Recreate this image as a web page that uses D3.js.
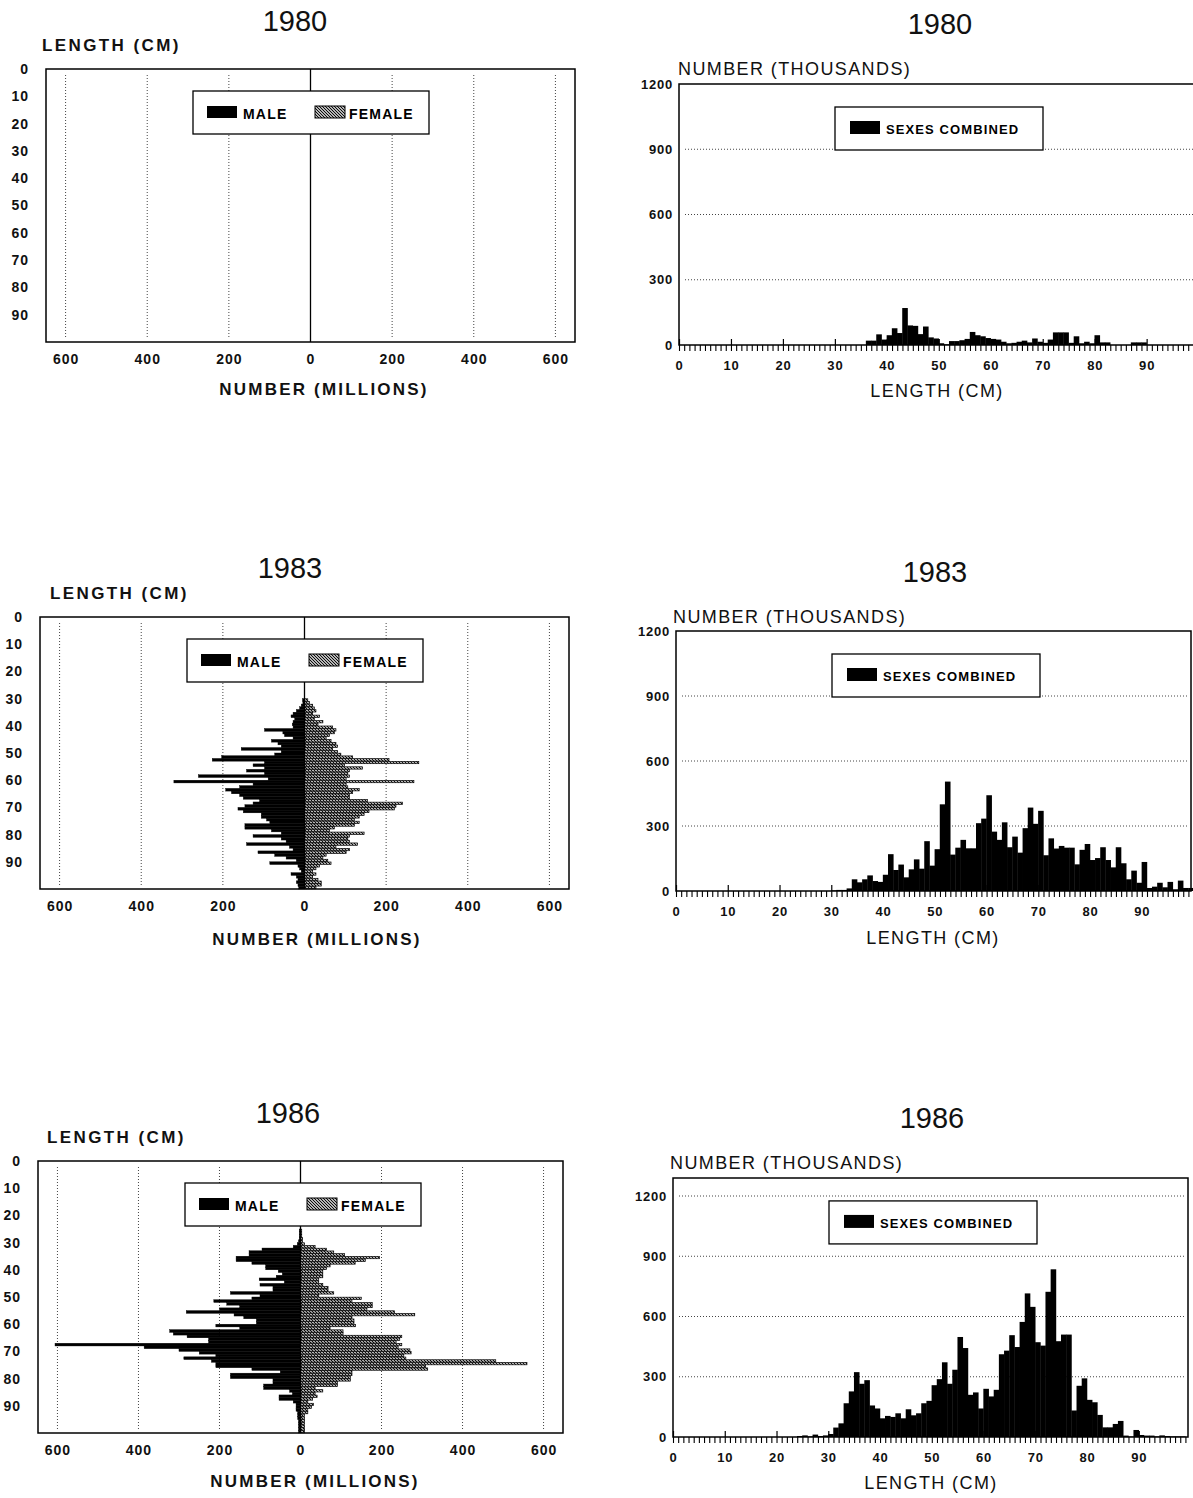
<!DOCTYPE html>
<html>
<head>
<meta charset="utf-8">
<script src="https://cdn.jsdelivr.net/npm/d3@7"></script>
<style>
  body { margin: 0; background: #fff; }
  svg { display: block; font-family: "Liberation Sans", Arial, sans-serif; }
</style>
</head>
<body>
<script>
// ---- data: length frequencies, 1 cm bins ----
// pyramids, number (millions) by length class, first bin given by *Start
var male1980Start = 30
var male1980 = []
var female1980 = []

var pyr1983Start = 30
var male1983 = [5, 4, 8, 12, 20, 28, 33, 24, 28, 30,
  28, 98, 53, 49, 28, 81, 65, 57, 155, 57,
  73, 203, 226, 98, 126, 98, 142, 98, 260, 89,
  320, 126, 159, 193, 179, 159, 150, 110, 126, 146,
  163, 150, 106, 106, 93, 85, 146, 146, 81, 57,
  126, 57, 45, 142, 37, 28, 114, 73, 45, 20,
  85, 16, 12, 8, 33, 20, 16, 20, 16, 14]
var female1983 = [8, 12, 20, 24, 28, 20, 37, 24, 45, 33,
  69, 77, 73, 61, 53, 65, 77, 81, 69, 81,
  89, 118, 207, 280, 98, 142, 110, 106, 110, 102,
  268, 102, 106, 134, 118, 110, 110, 154, 240, 224,
  220, 158, 146, 134, 122, 134, 122, 73, 61, 146,
  110, 106, 110, 130, 77, 110, 102, 53, 45, 57,
  65, 37, 28, 20, 28, 20, 33, 41, 41, 28]

var pyr1986Start = 25
var male1986 = [3, 3, 3, 3, 5, 8, 18, 95, 127, 127,
  159, 159, 120, 86, 86, 55, 45, 60, 102, 40,
  100, 68, 68, 173, 100, 120, 214, 182, 150, 200,
  282, 164, 140, 109, 109, 209, 150, 323, 314, 280,
  227, 227, 606, 386, 300, 250, 209, 288, 220, 209,
  209, 120, 50, 173, 173, 68, 68, 91, 91, 27,
  20, 53, 53, 18, 11, 11, 11, 7, 7, 7,
  5, 5, 5, 5, 5]
var female1986 = [3, 3, 3, 5, 5, 10, 36, 64, 82, 109,
  195, 160, 135, 73, 64, 55, 55, 55, 45, 45,
  55, 68, 68, 82, 45, 150, 127, 177, 177, 164,
  232, 282, 127, 132, 132, 136, 73, 105, 105, 250,
  245, 236, 250, 241, 270, 273, 255, 260, 482, 559,
  309, 314, 127, 127, 123, 123, 91, 91, 36, 55,
  36, 41, 30, 18, 32, 27, 18, 18, 10, 10,
  10, 10, 10, 10, 10]

// sexes combined, number (thousands)
var comb1980Start = 36
var combined1980 = [20, 20, 49, 25, 45, 77, 55, 170, 90, 88,
  50, 85, 35, 30, 8, 3, 18, 18, 22, 28,
  60, 45, 40, 32, 28, 25, 15, 8, 10, 15,
  20, 12, 30, 15, 10, 25, 58, 58, 58, 10,
  40, 8, 15, 8, 45, 12, 12, 0, 0, 0,
  0, 12, 12, 12]

var comb1983Start = 30
var combined1983 = [3, 5, 5, 12, 54, 40, 54, 72, 46, 42,
  75, 170, 97, 122, 63, 100, 146, 103, 230, 117,
  193, 400, 505, 168, 200, 236, 197, 197, 313, 334,
  442, 274, 236, 317, 202, 251, 177, 290, 385, 310,
  370, 165, 243, 196, 208, 200, 200, 123, 190, 217,
  143, 152, 202, 143, 109, 202, 128, 54, 94, 38,
  134, 14, 20, 38, 17, 42, 8, 48, 14, 14]

var comb1986Start = 24
var combined1986 = [5, 8, 3, 12, 5, 8, 15, 47, 68, 168,
  227, 323, 265, 283, 157, 142, 93, 105, 100, 118,
  93, 138, 108, 118, 168, 180, 258, 288, 372, 265,
  335, 498, 443, 210, 222, 142, 240, 202, 235, 412,
  430, 507, 448, 573, 715, 648, 472, 455, 723, 835,
  477, 510, 510, 132, 255, 292, 185, 173, 110, 48,
  48, 65, 80, 7, 2, 35, 10, 7, 7, 3,
  8, 5, 3, 3, 3]

var lengthTicks = [0, 10, 20, 30, 40, 50, 60, 70, 80, 90]
var numberTicks = [-600, -400, -200, 0, 200, 400, 600]
var thousandTicks = [0, 300, 600, 900, 1200]

var svg = d3.select('body').append('svg')
  .attr('width', 1193)
  .attr('height', 1498)

var defs = svg.append('defs')
defs.append('pattern')
  .attr('id', 'hatch')
  .attr('patternUnits', 'userSpaceOnUse')
  .attr('width', 3)
  .attr('height', 3)
  .call(p => {
    p.append('rect').attr('width', 3).attr('height', 3).attr('fill', '#fff')
    p.append('path').attr('d', 'M-1,-1 L4,4 M-1,2 L1,4 M2,-1 L4,1')
      .attr('stroke', '#000').attr('stroke-width', 1.1)
  })

function label(x, y, str, size, weight, anchor, spacing) {
  svg.append('text')
    .attr('x', x).attr('y', y)
    .attr('font-size', size)
    .attr('font-weight', weight)
    .attr('text-anchor', anchor || 'start')
    .attr('letter-spacing', spacing || 0)
    .attr('fill', '#111')
    .text(str)
}

function drawPyramid(o) {
  var x = d3.scaleLinear().domain([-648, 648]).range([o.left, o.right])
  var y = d3.scaleLinear().domain([0, 100]).range([o.top, o.bottom])
  var g = svg.append('g')

  label(o.titleX, o.titleY, o.year, 29, 'normal', 'middle', 0)
  label(o.lenX, o.lenY, 'LENGTH (CM)', 17, 'bold', 'start', 2.4)
  label(o.numX, o.numY, 'NUMBER (MILLIONS)', 17, 'bold', 'middle', 2.2)

  // dotted grid
  g.selectAll('.grid')
    .data(numberTicks.filter(d => d !== 0))
    .enter().append('line')
    .attr('x1', d => x(d)).attr('x2', d => x(d))
    .attr('y1', o.top + 6).attr('y2', o.bottom - 4)
    .attr('stroke', '#444').attr('stroke-width', 1)
    .attr('stroke-dasharray', '1,2')

  // bars
  g.selectAll('.male')
    .data(o.male)
    .enter().append('rect')
    .attr('x', d => x(-d))
    .attr('y', (d, i) => y(o.start + i))
    .attr('width', d => x(0) - x(-d))
    .attr('height', y(1) - y(0))
    .attr('fill', '#000')
    .attr('stroke', '#000').attr('stroke-width', 0.4)

  g.selectAll('.female')
    .data(o.female)
    .enter().append('rect')
    .attr('x', x(0))
    .attr('y', (d, i) => y(o.start + i) + 0.2)
    .attr('width', d => x(d) - x(0))
    .attr('height', y(1) - y(0) - 0.4)
    .attr('fill', 'url(#hatch)')
    .attr('stroke', '#000').attr('stroke-width', 0.7)

  // centre line
  g.append('line')
    .attr('x1', x(0)).attr('x2', x(0))
    .attr('y1', o.top).attr('y2', o.bottom)
    .attr('stroke', '#000').attr('stroke-width', 1.3)

  g.append('rect')
    .attr('x', o.left).attr('y', o.top)
    .attr('width', o.right - o.left).attr('height', o.bottom - o.top)
    .attr('fill', 'none').attr('stroke', '#000').attr('stroke-width', 1.5)

  var yAxis = g.append('g')
    .attr('transform', `translate(${o.left},0)`)
    .call(d3.axisLeft(y).tickValues(lengthTicks).tickSize(0).tickPadding(17))
  var xAxis = g.append('g')
    .attr('transform', `translate(0,${o.bottom})`)
    .call(d3.axisBottom(x).tickValues(numberTicks).tickFormat(d => Math.abs(d)).tickSize(0).tickPadding(12))
  ;[yAxis, xAxis].forEach(a => {
    a.select('.domain').remove()
    a.selectAll('text')
      .attr('font-family', '"Liberation Sans", Arial, sans-serif')
      .attr('font-size', 14).attr('font-weight', 'bold')
      .attr('letter-spacing', 1).attr('fill', '#111')
  })

  // legend
  var lg = g.append('g').attr('transform', `translate(${o.left + 147},${o.top + 22})`)
  lg.append('rect').attr('width', 236).attr('height', 43)
    .attr('fill', '#fff').attr('stroke', '#000').attr('stroke-width', 1.3)
  lg.append('rect').attr('x', 14).attr('y', 15).attr('width', 30).attr('height', 12).attr('fill', '#000')
  lg.append('text').attr('x', 50).attr('y', 28).attr('font-size', 14).attr('font-weight', 'bold')
    .attr('letter-spacing', 1.2).text('MALE')
  lg.append('rect').attr('x', 122).attr('y', 15).attr('width', 30).attr('height', 12)
    .attr('fill', 'url(#hatch)').attr('stroke', '#000').attr('stroke-width', 1)
  lg.append('text').attr('x', 156).attr('y', 28).attr('font-size', 14).attr('font-weight', 'bold')
    .attr('letter-spacing', 1.2).text('FEMALE')
}

function drawHist(o) {
  var x = d3.scaleLinear().domain([0, 99.5]).range([o.left, o.right])
  var y = d3.scaleLinear().domain([0, 1200]).range([o.bottom, o.top1200])
  var top = y(o.yMax)
  var g = svg.append('g')

  label(o.titleX, o.titleY, o.year, 29, 'normal', 'middle', 0)
  label(o.numX, o.numY, 'NUMBER (THOUSANDS)', 18, 'normal', 'start', 1.4)
  label(o.lenX, o.lenY, 'LENGTH (CM)', 18, 'normal', 'middle', 1.4)

  g.selectAll('.grid')
    .data(thousandTicks.filter(d => d > 0 && y(d) > top + 3))
    .enter().append('line')
    .attr('x1', o.left + 6).attr('x2', o.right - 2)
    .attr('y1', d => y(d)).attr('y2', d => y(d))
    .attr('stroke', '#444').attr('stroke-width', 1)
    .attr('stroke-dasharray', '1,2')

  g.selectAll('.bar')
    .data(o.values)
    .enter().append('rect')
    .attr('x', (d, i) => x(o.start + i) - 0.2)
    .attr('y', d => y(d))
    .attr('width', x(1) - x(0) + 0.4)
    .attr('height', d => y(0) - y(d))
    .attr('fill', '#000')

  // length ticks, one per cm
  var minor = g.append('g')
    .attr('transform', `translate(0,${o.bottom})`)
    .call(d3.axisBottom(x).tickValues(d3.range(0, 100)).tickSize(6).tickFormat(''))
  minor.select('.domain').remove()
  minor.selectAll('line').attr('stroke-width', 1.1)
  var major = g.append('g')
    .attr('transform', `translate(0,${o.bottom})`)
    .call(d3.axisBottom(x).tickValues(lengthTicks).tickSizeInner(-6).tickSizeOuter(0).tickPadding(16))
  major.select('.domain').remove()
  major.selectAll('line').attr('stroke-width', 1.2)

  var yAxis = g.append('g')
    .attr('transform', `translate(${o.left},0)`)
    .call(d3.axisLeft(y).tickValues(thousandTicks).tickFormat(d3.format('d')).tickSize(0).tickPadding(6))
  yAxis.select('.domain').remove()
  ;[major, yAxis].forEach(a => {
    a.selectAll('text')
      .attr('font-family', '"Liberation Sans", Arial, sans-serif')
      .attr('font-size', 13).attr('font-weight', 'bold')
      .attr('letter-spacing', 0.8).attr('fill', '#111')
  })

  g.append('path')
    .attr('d', `M${o.left},${top}H${x(99.5)}V${o.bottom}H${o.left}Z`)
    .attr('fill', 'none').attr('stroke', '#000').attr('stroke-width', 1.5)

  var lg = g.append('g').attr('transform', `translate(${o.left + 156},${top + 23})`)
  lg.append('rect').attr('width', 208).attr('height', 43)
    .attr('fill', '#fff').attr('stroke', '#000').attr('stroke-width', 1.3)
  lg.append('rect').attr('x', 15).attr('y', 14).attr('width', 30).attr('height', 13).attr('fill', '#000')
  lg.append('text').attr('x', 51).attr('y', 27).attr('font-size', 13).attr('font-weight', 'bold')
    .attr('letter-spacing', 1.1).text('SEXES COMBINED')
}

drawPyramid({ year: '1980', left: 46, right: 575, top: 69, bottom: 342,
  titleX: 295, titleY: 31, lenX: 42, lenY: 51, numX: 324, numY: 395,
  start: male1980Start, male: male1980, female: female1980 })
drawPyramid({ year: '1983', left: 40, right: 569, top: 617, bottom: 889,
  titleX: 290, titleY: 578, lenX: 50, lenY: 599, numX: 317, numY: 945,
  start: pyr1983Start, male: male1983, female: female1983 })
drawPyramid({ year: '1986', left: 38, right: 563, top: 1161, bottom: 1433,
  titleX: 288, titleY: 1123, lenX: 47, lenY: 1143, numX: 315, numY: 1487,
  start: pyr1986Start, male: male1986, female: female1986 })

drawHist({ year: '1980', left: 679, right: 1196, bottom: 345, top1200: 84, yMax: 1200,
  titleX: 940, titleY: 34, numX: 678, numY: 75, lenX: 937, lenY: 397,
  start: comb1980Start, values: combined1980 })
drawHist({ year: '1983', left: 676, right: 1191, bottom: 891, top1200: 631, yMax: 1200,
  titleX: 935, titleY: 582, numX: 673, numY: 623, lenX: 933, lenY: 944,
  start: comb1983Start, values: combined1983 })
drawHist({ year: '1986', left: 673, right: 1188, bottom: 1437, top1200: 1196, yMax: 1290,
  titleX: 932, titleY: 1128, numX: 670, numY: 1169, lenX: 931, lenY: 1489,
  start: comb1986Start, values: combined1986 })
</script>
</body>
</html>
